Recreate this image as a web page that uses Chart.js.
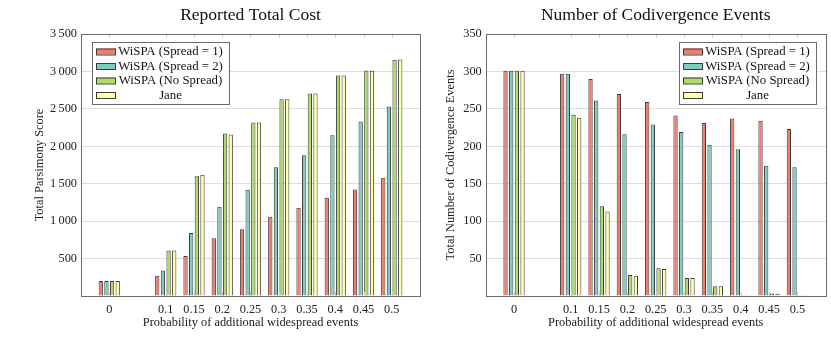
<!DOCTYPE html>
<html>
<head>
<meta charset="utf-8">
<script src="https://cdn.jsdelivr.net/npm/chart.js@4.4.1/dist/chart.umd.min.js"></script>
<style>
  body { margin: 0; background: #fff; }
  #wrap { position: relative; width: 831px; height: 339px; }
  canvas { position: absolute; top: 0; }
</style>
</head>
<body>
<div id="wrap">
  <canvas id="cost" width="424" height="339" style="left:0"></canvas>
  <canvas id="codiv" width="407" height="339" style="left:424px"></canvas>
</div>
<script>
// probabilities on the x axis (linear scale)
const probs = [0, 0.1, 0.15, 0.2, 0.25, 0.3, 0.35, 0.4, 0.45, 0.5];
const xTicks = [0, 0.1, 0.15, 0.2, 0.25, 0.3, 0.35, 0.4, 0.45, 0.5];
const seriesNames = ['WiSPA (Spread = 1)', 'WiSPA (Spread = 2)', 'WiSPA (No Spread)', 'Jane'];

// left: reported total cost
const costSpread1  = [200, 272, 536, 770, 891, 1058, 1179, 1314, 1422, 1580];
const costSpread2  = [200, 340, 842, 1192, 1418, 1719, 1880, 2147, 2330, 2531];
const costNoSpread = [200, 608, 1600, 2170, 2317, 2630, 2705, 2946, 3013, 3156];
const costJane     = [200, 608, 1620, 2156, 2317, 2630, 2705, 2946, 3009, 3160];
const costTicks = [0, 500, 1000, 1500, 2000, 2500, 3000, 3500];

// right: number of codivergence events
const codivSpread1  = [301, 297, 290, 270, 259, 241, 231, 237, 234, 223];
const codivSpread2  = [301, 297, 261, 216, 229, 219, 202, 196, 174, 172];
const codivNoSpread = [301, 242, 120, 28, 37, 24, 13, 1, 3.5, 1];
const codivJane     = [301, 238, 113, 27, 36, 24, 13, 1, 3, 0.5];
const codivTicks = [0, 50, 100, 150, 200, 250, 300, 350];

const fills = ['#f47a6c', '#80cbc0', '#afdc66', '#ffffa6'];
const edge = '#3c3c3c';
const serif = "'Liberation Serif', 'DejaVu Serif', serif";

Chart.defaults.font.family = serif;
Chart.defaults.color = '#222';

function pairs(vals) {
    return probs.map((p, i) => ({ x: p, y: vals[i] }));
}

function fmtThousands(v) {
    if (v === 0) return '';
    let s = String(v);
    if (v >= 1000) s = s.slice(0, -3) + '\u2009' + s.slice(-3);
    return s;
}

// frame, inward x ticks, title and boxed legend drawn inside the plot
const framePlugin = {
    id: 'frame',
    afterDraw(chart, args, opts) {
        const ctx = chart.ctx;
        const a = chart.chartArea;
        const xs = chart.scales.x;
        ctx.save();
        ctx.strokeStyle = '#cfcfcf';
        ctx.lineWidth = 1;
        xTicks.forEach(t => {
            const px = Math.round(xs.getPixelForValue(t)) + 0.5;
            ctx.beginPath();
            ctx.moveTo(px, a.top); ctx.lineTo(px, a.top + 4);
            ctx.moveTo(px, a.bottom); ctx.lineTo(px, a.bottom - 4);
            ctx.stroke();
        });
        ctx.strokeStyle = '#6a6a6a';
        ctx.strokeRect(Math.round(a.left) + 0.5, Math.round(a.top) + 0.5,
            Math.round(a.right - a.left), Math.round(a.bottom - a.top));

        // title
        ctx.fillStyle = '#111';
        ctx.font = '17.5px ' + serif;
        ctx.textAlign = 'center';
        ctx.textBaseline = 'middle';
        ctx.fillText(opts.title, (a.left + a.right) / 2, 15);

        // legend
        const lx = opts.legendX, ly = opts.legendY, lw = 137, lh = 62;
        ctx.fillStyle = '#fff';
        ctx.fillRect(lx, ly, lw, lh);
        ctx.strokeStyle = '#6a6a6a';
        ctx.strokeRect(lx + 0.5, ly + 0.5, lw, lh);
        ctx.font = '12.8px ' + serif;
        chart.data.datasets.forEach((ds, i) => {
            const cy = ly + 9.5 + i * 14.5;
            ctx.fillStyle = ds.backgroundColor;
            ctx.fillRect(lx + 4, cy - 3, 20, 6);
            ctx.strokeStyle = edge;
            ctx.strokeRect(lx + 4.5, cy - 2.5, 19, 6);
            ctx.fillStyle = '#111';
            ctx.fillText(ds.label, lx + 78.5, cy + 0.5);
        });
        ctx.restore();
    }
};

function buildChart(id, series, yTicks, yMax, yTitle, yAxisWidth, yTitlePad, padRight, frameOpts) {
    const datasets = series.map((vals, i) => ({
        label: seriesNames[i],
        data: pairs(vals),
        backgroundColor: fills[i],
        borderColor: edge,
        borderWidth: 1,
        categoryPercentage: 0.8,
        barPercentage: 0.76
    }));
    return new Chart(document.getElementById(id), {
        type: 'bar',
        data: { datasets: datasets },
        options: {
            responsive: false,
            animation: false,
            layout: { padding: { top: 34, right: padRight, left: 0, bottom: 0 } },
            plugins: {
                legend: { display: false },
                tooltip: { enabled: false },
                frame: frameOpts
            },
            scales: {
                x: {
                    type: 'linear',
                    min: -0.05,
                    max: 0.55,
                    offset: false,
                    afterBuildTicks: s => { s.ticks = xTicks.map(v => ({ value: v })); },
                    afterFit: s => { s.height = 43; },
                    grid: { display: false, drawTicks: false },
                    border: { display: false },
                    ticks: {
                        padding: 6,
                        autoSkip: false,
                        maxRotation: 0,
                        font: { size: 12.3 },
                        callback: v => String(v)
                    },
                    title: {
                        display: true,
                        text: 'Probability of additional widespread events',
                        font: { size: 12.4 },
                        padding: { top: 0, bottom: 8.6 }
                    }
                },
                y: {
                    min: 0,
                    max: yMax,
                    afterBuildTicks: s => { s.ticks = yTicks.map(v => ({ value: v })); },
                    afterFit: s => { s.width = yAxisWidth; },
                    grid: { color: '#dddddd', drawTicks: false },
                    border: { display: false },
                    ticks: {
                        padding: 4,
                        font: { size: 12.3 },
                        callback: v => fmtThousands(v)
                    },
                    title: {
                        display: true,
                        text: yTitle,
                        font: { size: 12.4 },
                        padding: { top: yTitlePad - 0.8, bottom: 0 }
                    }
                }
            }
        },
        plugins: [framePlugin]
    });
}

buildChart('cost',
    [costSpread1, costSpread2, costNoSpread, costJane],
    costTicks, 3500, 'Total Parsimony Score', 81, 33.4, 4,
    { title: 'Reported Total Cost', legendX: 92, legendY: 42 });

buildChart('codiv',
    [codivSpread1, codivSpread2, codivNoSpread, codivJane],
    codivTicks, 350, 'Total Number of Codivergence Events', 61.7, 20.4, 5.3,
    { title: 'Number of Codivergence Events', legendX: 255, legendY: 42 });
</script>
</body>
</html>
